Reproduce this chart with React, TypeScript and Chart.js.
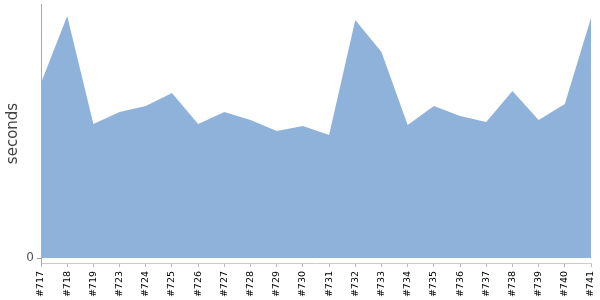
import React, { useEffect, useRef } from "react";
import { Chart, registerables } from "chart.js";

Chart.register(...registerables);

const builds = ["#717", "#718", "#719", "#723", "#724", "#725", "#726", "#727", "#728", "#729", "#730", "#731", "#732", "#733", "#734", "#735", "#736", "#737", "#738", "#739", "#740", "#741"];
const durations = [175, 242, 134, 146, 152, 165, 134, 146, 138, 127, 132, 123, 238, 206, 133, 152, 142, 136, 167, 138, 154, 240];
const yTickValues = [0];
const yTitle = "seconds";

export default function App() {
  const ref = useRef<HTMLCanvasElement | null>(null);
  useEffect(() => {
    if (!ref.current) return;
    const chart = new Chart(ref.current, {
      type: "line",
      data: {
        labels: builds,
        datasets: [
          {
            data: durations,
            fill: "origin",
            backgroundColor: "#8fb2db",
            borderWidth: 0,
            borderColor: "rgba(0,0,0,0)",
            pointRadius: 0,
            tension: 0,
          },
        ],
      },
      options: {
        animation: false,
        responsive: false,
        maintainAspectRatio: false,
        layout: { padding: { left: 4, top: 4, right: 0, bottom: 0 } },
        plugins: { legend: { display: false }, tooltip: { enabled: false } },
        scales: {
          x: {
            type: "category",
            offset: false,
            grid: { drawOnChartArea: false, drawTicks: true, tickLength: 4, color: "#bbb" },
            border: { display: true, color: "#ccc" },
            ticks: {
              autoSkip: false,
              minRotation: 90,
              maxRotation: 90,
              padding: 4,
              color: "#000",
              font: { family: "DejaVu Sans", size: 9.5 },
            },
            afterFit: (s: any) => {
              s.height = 37;
              s.paddingRight = 9;
              s.paddingLeft = 0;
            },
          },
          y: {
            min: -5,
            max: 254,
            grid: { drawOnChartArea: false, drawTicks: true, tickLength: 4, color: "#999" },
            border: { display: true, color: "#aaa" },
            afterBuildTicks: (s: any) => {
              s.ticks = yTickValues.map((v) => ({ value: v }));
            },
            ticks: {
              padding: 3,
              color: "#555",
              font: { family: "DejaVu Sans", size: 12 },
            },
            title: {
              display: true,
              text: yTitle,
              color: "#444",
              padding: 0,
              font: { family: "DejaVu Sans", size: 15 },
            },
            afterFit: (s: any) => {
              s.width = 37;
              s.paddingTop = 0;
              s.paddingBottom = 0;
            },
          },
        },
      },
    });
    return () => chart.destroy();
  }, []);
  return (
    <div style={{ position: "fixed", left: 0, top: 0, width: 600, height: 300, background: "#fff" }}>
      <canvas ref={ref} width={600} height={300} style={{ width: 600, height: 300 }} />
    </div>
  );
}
